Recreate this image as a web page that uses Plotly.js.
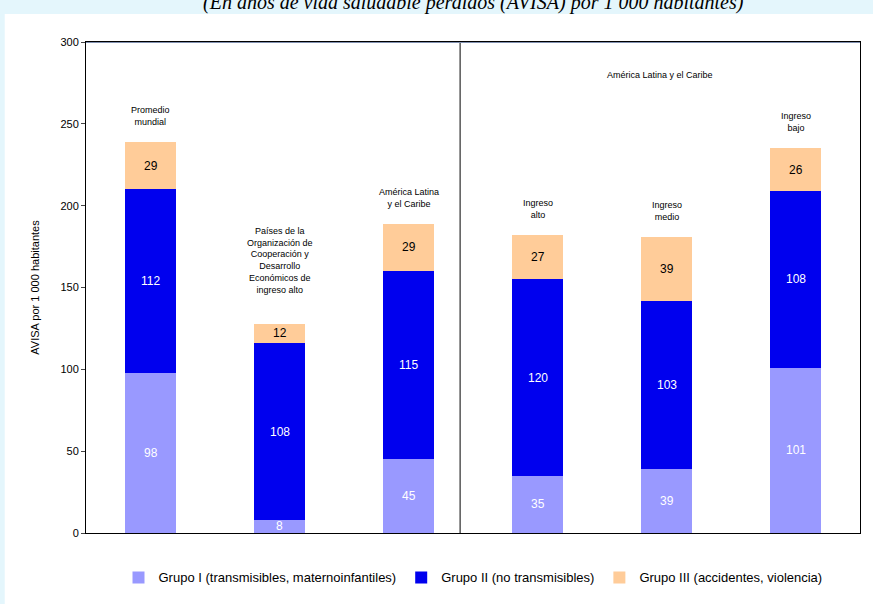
<!DOCTYPE html>
<html><head><meta charset="utf-8">
<script src="https://cdn.plot.ly/plotly-3.0.1.min.js"></script>
<style>html,body{margin:0;padding:0;background:#e4f6fc;}#c{width:873px;height:604px;}</style>
</head><body><div id="c"></div>
<script>
const categorias = ["Promedio<br>mundial", "Países de la<br>Organización de<br>Cooperación y<br>Desarrollo<br>Económicos de<br>ingreso alto", "América Latina<br>y el Caribe", "Ingreso<br>alto", "Ingreso<br>medio", "Ingreso<br>bajo"];
const grupoI = [98, 8, 45, 35, 39, 101];
const grupoII = [112, 108, 115, 120, 103, 108];
const grupoIII = [29, 12, 29, 27, 39, 26];
const nombres = ["Grupo I (transmisibles, maternoinfantiles)", "Grupo II (no transmisibles)", "Grupo III (accidentes, violencia)"];
const colores = ["#9999ff", "#0000ee", "#ffcc99"];
const colTexto = ["white", "white", "black"];
const series = [grupoI, grupoII, grupoIII];
const xs = categorias.map((c, i) => i);

const daten = series.map((s, k) => ({
  type: "bar", x: xs, y: s, name: nombres[k],
  marker: { color: colores[k] }, width: 0.4, hoverinfo: "skip"
}));

const anot = [];
series.forEach((s, k) => {
  s.forEach((v, i) => {
    let base = 0;
    for (let j = 0; j < k; j++) base += series[j][i];
    anot.push({ x: i, y: base + v / 2, text: String(v), showarrow: false,
      font: { family: "Arial", size: 12, color: colTexto[k] }, yanchor: "middle" });
  });
});
const offsets = [8, 16, 8, 8, 8, 8];
const totals = xs.map(i => grupoI[i] + grupoII[i] + grupoIII[i]);
categorias.forEach((c, i) => {
  anot.push({ x: i, y: totals[i] + offsets[i], text: c, showarrow: false, yanchor: "bottom",
    font: { family: "Arial", size: 9, color: "black" } });
});
anot.push({ x: 3.95, y: 280, text: "América Latina y el Caribe", showarrow: false,
  font: { family: "Arial", size: 9, color: "black" } });
anot.push({ xref: "paper", yref: "paper", x: 0.5, y: 1.052, yanchor: "bottom", text: "<i>(En años de vida saludable perdidos (AVISA) por 1 000 habitantes)</i>",
  showarrow: false, font: { family: "Liberation Serif", size: 20, color: "black" } });

const layout = {
  barmode: "stack", showlegend: true,
  width: 873, height: 604,
  paper_bgcolor: "#e4f6fc", plot_bgcolor: "white",
  margin: { l: 86, r: 13, t: 42, b: 71 },
  xaxis: { range: [-0.5, 5.5], showticklabels: false, ticks: "", showline: true, linecolor: "black", mirror: true, showgrid: false, zeroline: false },
  yaxis: { range: [0, 300], dtick: 50, ticks: "outside", ticklen: 4, showline: true, linecolor: "black", mirror: true, showgrid: false, zeroline: false,
    tickfont: { family: "Arial", size: 11, color: "black" },
    title: { text: "AVISA por 1 000 habitantes", font: { family: "Arial", size: 11, color: "black" }, standoff: 18 } },
  legend: { orientation: "h", x: 0.5, xanchor: "center", y: -0.06, yanchor: "top", traceorder: "normal",
    font: { family: "Arial", size: 13, color: "black" }, bgcolor: "rgba(0,0,0,0)", itemwidth: 30 },
  annotations: anot,
  shapes: [
    { type: "rect", xref: "paper", yref: "paper", x0: -0.105, x1: 1.02, y0: -0.145, y1: 1.057, fillcolor: "white", line: { width: 0 }, layer: "below" },
    { type: "line", x0: 2.4, x1: 2.4, y0: 0, y1: 300, line: { color: "black", width: 1 } },
    { type: "line", xref: "paper", x0: 0, x1: 1, y0: 300, y1: 300, line: { color: "#8090b0", width: 2 } }
  ]
};
Plotly.newPlot("c", daten, layout, { displayModeBar: false, staticPlot: true });
</script></body></html>
